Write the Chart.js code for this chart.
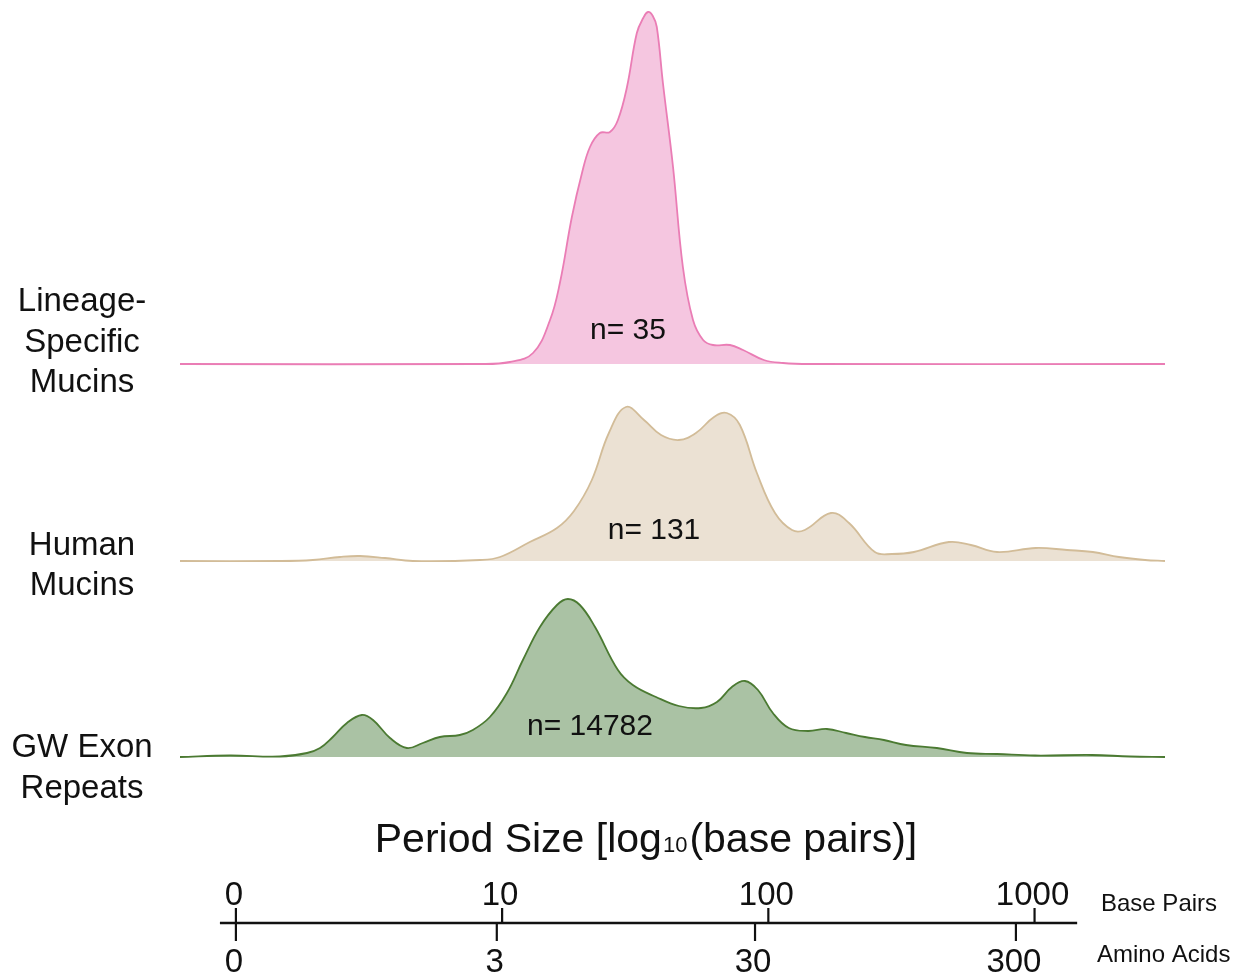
<!DOCTYPE html>
<html>
<head>
<meta charset="utf-8">
<script src="https://cdn.jsdelivr.net/npm/chart.js@4/dist/chart.umd.min.js"></script>
<style>
  html, body { margin: 0; padding: 0; background: #ffffff; }
  #wrap { position: relative; width: 1247px; height: 975px; }
</style>
</head>
<body>
<div id="wrap"><canvas id="c"></canvas></div>
<script>
// ---- data (x = log10(base pairs), h = density height) ----
const seriesNames = [["Lineage-", "Specific", "Mucins"], ["Human", "Mucins"], ["GW Exon", "Repeats"]];
const nCounts = [35, 131, 14782];

const pinkX = [-0.21, 0.917, 1.029, 1.116, 1.180, 1.217, 1.262, 1.300, 1.330, 1.367, 1.405, 1.435, 1.469, 1.506, 1.530, 1.548, 1.566, 1.581, 1.604, 1.642, 1.679, 1.717, 1.755, 1.792, 1.856, 1.905, 1.983, 2.055, 2.156, 3.49];
const pinkH = [0, 0, 2, 11, 44, 81, 147, 191, 217, 231, 232, 244, 277, 331, 346, 352, 348, 337, 281, 197, 97, 44, 24, 19, 19, 14, 4, 1, 0, 0];

const beigeX = [-0.21, 0.165, 0.289, 0.391, 0.466, 0.560, 0.665, 0.917, 0.992, 1.104, 1.206, 1.270, 1.337, 1.401, 1.465, 1.533, 1.597, 1.664, 1.728, 1.796, 1.844, 1.893, 1.957, 2.025, 2.089, 2.137, 2.235, 2.303, 2.400, 2.464, 2.547, 2.678, 2.761, 2.859, 3.005, 3.122, 3.219, 3.317, 3.415, 3.49];
const beigeH = [0, 0, 1, 4, 5, 3, 0, 1, 4, 19, 33, 50, 81, 128, 154, 141, 126, 121, 128, 144, 148, 136, 88, 48, 31, 31, 48, 38, 9, 7, 9, 19, 16, 9, 13, 11, 9, 4, 1, 0];

const greenX = [-0.21, -0.023, 0.165, 0.267, 0.316, 0.364, 0.417, 0.473, 0.515, 0.579, 0.642, 0.702, 0.766, 0.841, 0.890, 0.954, 1.018, 1.078, 1.142, 1.206, 1.247, 1.292, 1.349, 1.435, 1.491, 1.578, 1.664, 1.747, 1.807, 1.863, 1.912, 1.961, 2.017, 2.077, 2.149, 2.220, 2.292, 2.363, 2.434, 2.517, 2.633, 2.746, 2.859, 3.002, 3.216, 3.358, 3.49];
const greenH = [0, 1.5, 0.5, 4, 9, 20, 34, 42, 37, 19, 9, 14, 20, 22, 27, 40, 64, 97, 130, 152, 158, 152, 130, 87, 72, 60, 51, 49, 55, 70, 76, 67, 44, 29, 26, 28, 24, 20, 17, 12, 9, 4, 3, 1.5, 2, 0.5, 0];

const bpTickLabels = ["0", "10", "100", "1000"];
const bpTickPos = [0, 1, 2, 3];
const aaTickLabels = ["0", "3", "30", "300"];
const aaTickPos = [0, 0.98, 1.95, 2.93];

// ---- styling ----
const FONT = '"Liberation Sans", Arial, Helvetica, sans-serif';
const NARROW = '"Liberation Sans Narrow", "Liberation Sans", Arial, sans-serif';
const ridgeBase = [611, 414, 218];          // baseline of each ridge in y-scale units
const lineColors = ["#ea7db5", "#d2bc98", "#4b7a32"];
const fillColors = ["#f5c6e0", "#ebe1d3", "#aac2a4"];

function pts(xs, hs, base) {
  return xs.map((x, i) => ({ x: x, y: base + hs[i] }));
}

const allX = [pinkX, beigeX, greenX];
const allH = [pinkH, beigeH, greenH];

const datasets = allX.map((xs, i) => ({
  label: seriesNames[i].join(" "),
  data: pts(xs, allH[i], ridgeBase[i]),
  borderColor: lineColors[i],
  backgroundColor: fillColors[i],
  borderWidth: 1.8,
  pointRadius: 0,
  tension: 0.4,
  fill: { value: ridgeBase[i] },
  clip: false
}));

const textPlugin = {
  id: 'ridgeText',
  afterDraw(chart) {
    const ctx = chart.ctx;
    const xs = chart.scales.x;
    ctx.save();
    ctx.fillStyle = '#111';
    ctx.textAlign = 'center';
    ctx.textBaseline = 'middle';

    // left row labels
    ctx.font = '33px ' + FONT;
    const labelCenters = [[302, 343, 383], [546, 586], [748, 789]];
    seriesNames.forEach((lines, i) => {
      lines.forEach((t, j) => ctx.fillText(t, 82, labelCenters[i][j]));
    });

    // n labels
    ctx.font = '30px ' + FONT;
    const nPos = [[628, 331], [654, 531], [590, 727]];
    nCounts.forEach((n, i) => ctx.fillText('n= ' + n, nPos[i][0], nPos[i][1]));

    // title with subscript
    const t1 = 'Period Size [log', sub = '10', t2 = '(base pairs)]';
    const fBig = '41px ' + FONT, fSub = '22px ' + FONT;
    ctx.font = fBig; const w1 = ctx.measureText(t1).width, w3 = ctx.measureText(t2).width;
    ctx.font = fSub; const w2 = ctx.measureText(sub).width + 3;
    let tx = 646 - (w1 + w2 + w3) / 2;
    ctx.textAlign = 'left';
    ctx.textBaseline = 'alphabetic';
    ctx.font = fBig; ctx.fillText(t1, tx, 852);
    ctx.font = fSub; ctx.fillText(sub, tx + w1 + 1, 852);
    ctx.font = fBig; ctx.fillText(t2, tx + w1 + w2, 852);

    // custom axis
    const axY = 923;
    ctx.strokeStyle = '#111';
    ctx.lineWidth = 2.5;
    ctx.beginPath();
    ctx.moveTo(xs.getPixelForValue(-0.06), axY);
    ctx.lineTo(xs.getPixelForValue(3.16), axY);
    ctx.stroke();
    ctx.lineWidth = 2.2;
    bpTickPos.forEach(v => {
      const px = xs.getPixelForValue(v);
      ctx.beginPath(); ctx.moveTo(px, axY); ctx.lineTo(px, axY - 15); ctx.stroke();
    });
    aaTickPos.forEach(v => {
      const px = xs.getPixelForValue(v);
      ctx.beginPath(); ctx.moveTo(px, axY); ctx.lineTo(px, axY + 18); ctx.stroke();
    });
    ctx.textAlign = 'center';
    ctx.font = '33px ' + NARROW;
    ctx.textBaseline = 'alphabetic';
    bpTickLabels.forEach((t, i) => ctx.fillText(t, xs.getPixelForValue(bpTickPos[i]) - 2, 905));
    aaTickLabels.forEach((t, i) => ctx.fillText(t, xs.getPixelForValue(aaTickPos[i]) - 2, 972));

    ctx.textAlign = 'left';
    ctx.font = '24px ' + FONT;
    ctx.fillText('Base Pairs', 1101, 911);
    ctx.fillText('Amino Acids', 1097, 962);
    ctx.restore();
  }
};

new Chart(document.getElementById('c'), {
  type: 'line',
  data: { datasets: datasets },
  options: {
    responsive: true,
    maintainAspectRatio: false,
    animation: false,
    events: [],
    layout: { padding: { left: 180, right: 82, top: 0, bottom: 0 } },
    plugins: { legend: { display: false }, tooltip: { enabled: false }, title: { display: false } },
    scales: {
      x: { type: 'linear', min: -0.21, max: 3.49, display: false },
      y: { type: 'linear', min: 0, max: 975, display: false }
    }
  },
  plugins: [textPlugin]
});
</script>
</body>
</html>
